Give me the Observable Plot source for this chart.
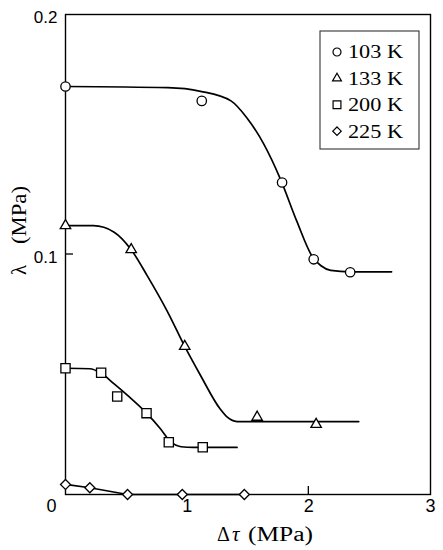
<!DOCTYPE html>
<html><head><meta charset="utf-8">
<script src="https://cdn.jsdelivr.net/npm/d3@7"></script>
<script src="https://cdn.jsdelivr.net/npm/@observablehq/plot@0.6"></script>
<style>body{margin:0;background:#fff}</style>
</head><body><div id="chart"></div>
<script>
// ---- data ----
const seriesNames = ["103 K", "133 K", "200 K", "225 K"];

// measured points (markers)
const x103 = [0, 1.12, 1.78, 2.04, 2.34];
const y103 = [0.170, 0.164, 0.130, 0.098, 0.0926];
const x133 = [0, 0.54, 0.98, 1.575, 2.06];
const y133 = [0.112, 0.102, 0.0617, 0.0322, 0.0292];
const x200 = [0, 0.293, 0.425, 0.666, 0.849, 1.128];
const y200 = [0.0526, 0.0507, 0.0408, 0.0339, 0.0218, 0.0197];
const x225 = [0, 0.2, 0.51, 0.96, 1.47];
const y225 = [0.0042, 0.0028, 0, 0, 0];

// fitted curves
const c103X = [0, 0.84, 1.11, 1.36, 1.49, 1.63, 1.77, 1.90, 2.03, 2.10, 2.18, 2.34, 2.68];
const c103Y = [0.170, 0.1695, 0.168, 0.164, 0.157, 0.146, 0.131, 0.114, 0.099, 0.0953, 0.0934, 0.0928, 0.0928];
const c133X = [0, 0.23, 0.40, 0.54, 0.67, 0.84, 0.98, 1.11, 1.27, 1.33, 1.41, 2.41];
const c133Y = [0.112, 0.112, 0.1093, 0.102, 0.0913, 0.076, 0.0617, 0.0496, 0.0357, 0.0322, 0.0304, 0.0304];
const c200X = [0, 0.20, 0.29, 0.40, 0.51, 0.67, 0.78, 0.86, 0.95, 1.05, 1.41];
const c200Y = [0.0526, 0.0524, 0.0506, 0.0461, 0.0413, 0.0337, 0.0274, 0.0222, 0.0199, 0.0196, 0.0196];
const c225X = [0, 0.2, 0.51, 1.47];
const c225Y = [0.0042, 0.0028, 0, 0];

// axes
const xTicks = [0, 1, 2, 3];
const xTickLabels = ["0", "1", "2", "3"];
const yTicks = [0.1, 0.2];
const yTickLabels = ["0.1", "0.2"];
const xInnerTicks = [2];
const yInnerTicks = [0.1];
const xTitle = ["Δ", "τ", "(MPa)"];
const yTitle = ["λ", "(MPa)"];

// ---- tables ----
const ptX = [x103, x133, x200, x225], ptY = [y103, y133, y200, y225];
const cvX = [c103X, c133X, c200X, c225X], cvY = [c103Y, c133Y, c200Y, c225Y];
const points = seriesNames.flatMap((s, i) => ptX[i].map((x, j) => ({series: s, x, y: ptY[i][j]})));
const curves = seriesNames.flatMap((s, i) => cvX[i].map((x, j) => ({series: s, x, y: cvY[i][j]})));

// styles
const symbolOf = {"103 K": "circle", "133 K": "triangle2", "200 K": "square", "225 K": "diamond2"};
const rOf = {"103 K": 4.7, "133 K": 5, "200 K": 5.2, "225 K": 4.5};
const d3Sym = {circle: d3.symbolCircle, triangle2: d3.symbolTriangle2, square: d3.symbolSquare, diamond2: d3.symbolDiamond2};
const SANS = "Liberation Sans, Arial, sans-serif";
const SERIF = "Liberation Serif, Times New Roman, serif";

const decorations = (index, scales, values, dims) => {
  const {x, y} = scales;
  const g = d3.create("svg:g");
  const bottom = dims.height - dims.marginBottom;
  const left = dims.marginLeft;
  for (const t of xInnerTicks)
    g.append("line").attr("x1", x(t)).attr("x2", x(t)).attr("y1", bottom).attr("y2", bottom - 8)
      .attr("stroke", "#000").attr("stroke-width", 1.3);
  for (const t of yInnerTicks)
    g.append("line").attr("x1", left).attr("x2", left + 8).attr("y1", y(t)).attr("y2", y(t))
      .attr("stroke", "#000").attr("stroke-width", 1.3);
  const tx = (s, size) => g.append("text").attr("fill", "#000").attr("font-family", SERIF)
    .attr("font-size", size).attr("text-anchor", "start").text(s);
  // x title
  tx(xTitle[0], 20).attr("x", 217).attr("y", 541);
  tx(xTitle[1], 21).attr("x", 232).attr("y", 541).attr("font-style", "italic");
  tx(xTitle[2], 20).attr("x", 248).attr("y", 541).attr("textLength", 65).attr("lengthAdjust", "spacingAndGlyphs");
  // y title
  tx(yTitle[0], 21).attr("transform", "translate(26,275) rotate(-90)");
  tx(yTitle[1], 20).attr("transform", "translate(26,244) rotate(-90)").attr("textLength", 58).attr("lengthAdjust", "spacingAndGlyphs");
  // legend
  g.append("rect").attr("x", 320).attr("y", 31).attr("width", 99).attr("height", 118)
    .attr("fill", "#fff").attr("stroke", "#333").attr("stroke-width", 1.1);
  seriesNames.forEach((s, i) => {
    const cy = 52 + i * 26.4;
    const sz = Math.PI * (rOf[s] * 0.85) ** 2;
    g.append("path").attr("d", d3.symbol(d3Sym[symbolOf[s]], sz)())
      .attr("transform", `translate(337,${cy})`)
      .attr("fill", "#fff").attr("stroke", "#000").attr("stroke-width", 1.2);
    tx(s, 18).attr("x", 348).attr("y", cy + 6.3)
      .attr("textLength", 55).attr("lengthAdjust", "spacingAndGlyphs");
  });
  return g.node();
};

const chart = Plot.plot({
  width: 443, height: 550,
  marginLeft: 65, marginRight: 13, marginTop: 14, marginBottom: 56,
  x: {domain: [0, 3], axis: null},
  y: {domain: [0, 0.2], axis: null},
  style: {background: "#fff", color: "#000"},
  marks: [
    Plot.line(curves.filter(d => d.series !== "225 K"), {x: "x", y: "y", z: "series", curve: "monotone-x", stroke: "#000", strokeWidth: 1.7}),
    Plot.line(curves.filter(d => d.series === "225 K"), {x: "x", y: "y", z: "series", curve: "linear", stroke: "#000", strokeWidth: 1.7}),
    Plot.frame({stroke: "#000", strokeWidth: 1.4}),
    ...seriesNames.map(s => Plot.dot(points.filter(d => d.series === s), {
      x: "x", y: "y", symbol: symbolOf[s], r: rOf[s], fill: "#fff", stroke: "#000", strokeWidth: 1.3
    })),
    Plot.text(xTicks.slice(1), {x: d => d, text: (d, i) => xTickLabels[i + 1], frameAnchor: "bottom", dy: 17, fontSize: 18, fontFamily: SANS, fill: "#000"}),
    Plot.text(xTicks.slice(0, 1), {x: d => d, text: (d, i) => xTickLabels[i], frameAnchor: "bottom", dy: 17, dx: -14, fontSize: 18, fontFamily: SANS, fill: "#000"}),
    Plot.text(yTicks, {y: d => d, text: (d, i) => yTickLabels[i], frameAnchor: "left", textAnchor: "end", dx: -8, dy: 3, fontSize: 17, fontFamily: SANS, fill: "#000"}),
    decorations
  ]
});
document.getElementById("chart").appendChild(chart);
</script>
</body></html>
